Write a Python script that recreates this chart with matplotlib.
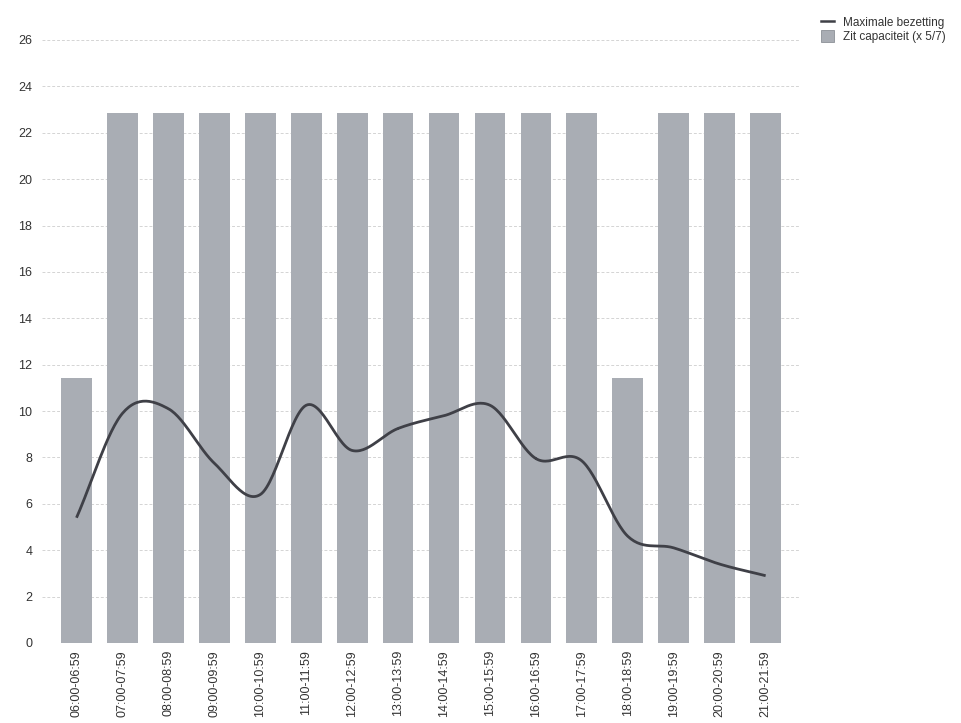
import numpy as np
import matplotlib.pyplot as plt
from matplotlib.lines import Line2D
from matplotlib.patches import Patch

# ================= data =================
slots = ["06:00-06:59", "07:00-07:59", "08:00-08:59", "09:00-09:59",
         "10:00-10:59", "11:00-11:59", "12:00-12:59", "13:00-13:59",
         "14:00-14:59", "15:00-15:59", "16:00-16:59", "17:00-17:59",
         "18:00-18:59", "19:00-19:59", "20:00-20:59", "21:00-21:59"]
capaciteit = [11.43, 22.86, 22.86, 22.86, 22.86, 22.86, 22.86, 22.86,
              22.86, 22.86, 22.86, 22.86, 11.43, 22.86, 22.86, 22.86]
max_bezetting = [5.4, 9.9, 10.1, 7.75, 6.4, 10.25, 8.3, 9.25,
                 9.8, 10.25, 7.95, 7.85, 4.6, 4.1, 3.4, 2.9]
yticks = list(range(0, 27, 2))
# ========================================

BAR_COLOR = "#a9adb4"
LINE_COLOR = "#3f4047"
TEXT_COLOR = "#333333"


def catmull_rom(x, y, n=30):
    """smooth curve through the points (catmull-rom spline)"""
    x = np.asarray(x, float)
    y = np.asarray(y, float)
    px = np.concatenate([[2 * x[0] - x[1]], x, [2 * x[-1] - x[-2]]])
    py = np.concatenate([[2 * y[0] - y[1]], y, [2 * y[-1] - y[-2]]])
    xs, ys = [], []
    t = np.linspace(0, 1, n)
    for i in range(1, len(px) - 2):
        for p, out in ((px, xs), (py, ys)):
            p0, p1, p2, p3 = p[i - 1], p[i], p[i + 1], p[i + 2]
            out.append(0.5 * (2 * p1 + (-p0 + p2) * t
                              + (2 * p0 - 5 * p1 + 4 * p2 - p3) * t ** 2
                              + (-p0 + 3 * p1 - 3 * p2 + p3) * t ** 3))
    return np.concatenate(xs), np.concatenate(ys)


plt.rcParams['font.family'] = ['Liberation Sans', 'DejaVu Sans']

fig = plt.figure(figsize=(9.62, 7.23), dpi=100)
ax = fig.add_axes([0.0437, 0.1107, 0.788, 0.834])

x = np.arange(len(slots))
ax.bar(x, capaciteit, width=0.67, color=BAR_COLOR, zorder=2)

sx, sy = catmull_rom(x, max_bezetting)
ax.plot(sx, sy, color=LINE_COLOR, lw=2.0, zorder=3, solid_capstyle='butt')

ax.set_xlim(-0.75, 15.75)
ax.set_ylim(0, 26)
ax.set_yticks(yticks)
ax.set_xticks(x)
ax.set_xticklabels(slots, rotation=90, fontsize=9, color=TEXT_COLOR)
ax.tick_params(axis='y', labelsize=9, labelcolor=TEXT_COLOR, length=0, pad=7)
ax.tick_params(axis='x', length=0, pad=5)

ax.grid(axis='y', color="#d4d4d4", linestyle=(0, (3, 2)), linewidth=0.7, zorder=0)
ax.set_axisbelow(True)
for s in ax.spines.values():
    s.set_visible(False)

handles = [Line2D([0], [0], color=LINE_COLOR, lw=1.8),
           Patch(facecolor=BAR_COLOR, edgecolor="#8c9097", linewidth=0.6)]
fig.legend(handles, ["Maximale bezetting", "Zit capaciteit (x 5/7)"],
           loc='upper left', bbox_to_anchor=(0.849, 0.985), frameon=False,
           fontsize=8.5, handlelength=1.1, handleheight=1.2, handletextpad=0.7,
           labelspacing=0.15, labelcolor=TEXT_COLOR, borderaxespad=0)

fig.savefig("out.png", dpi=100)
